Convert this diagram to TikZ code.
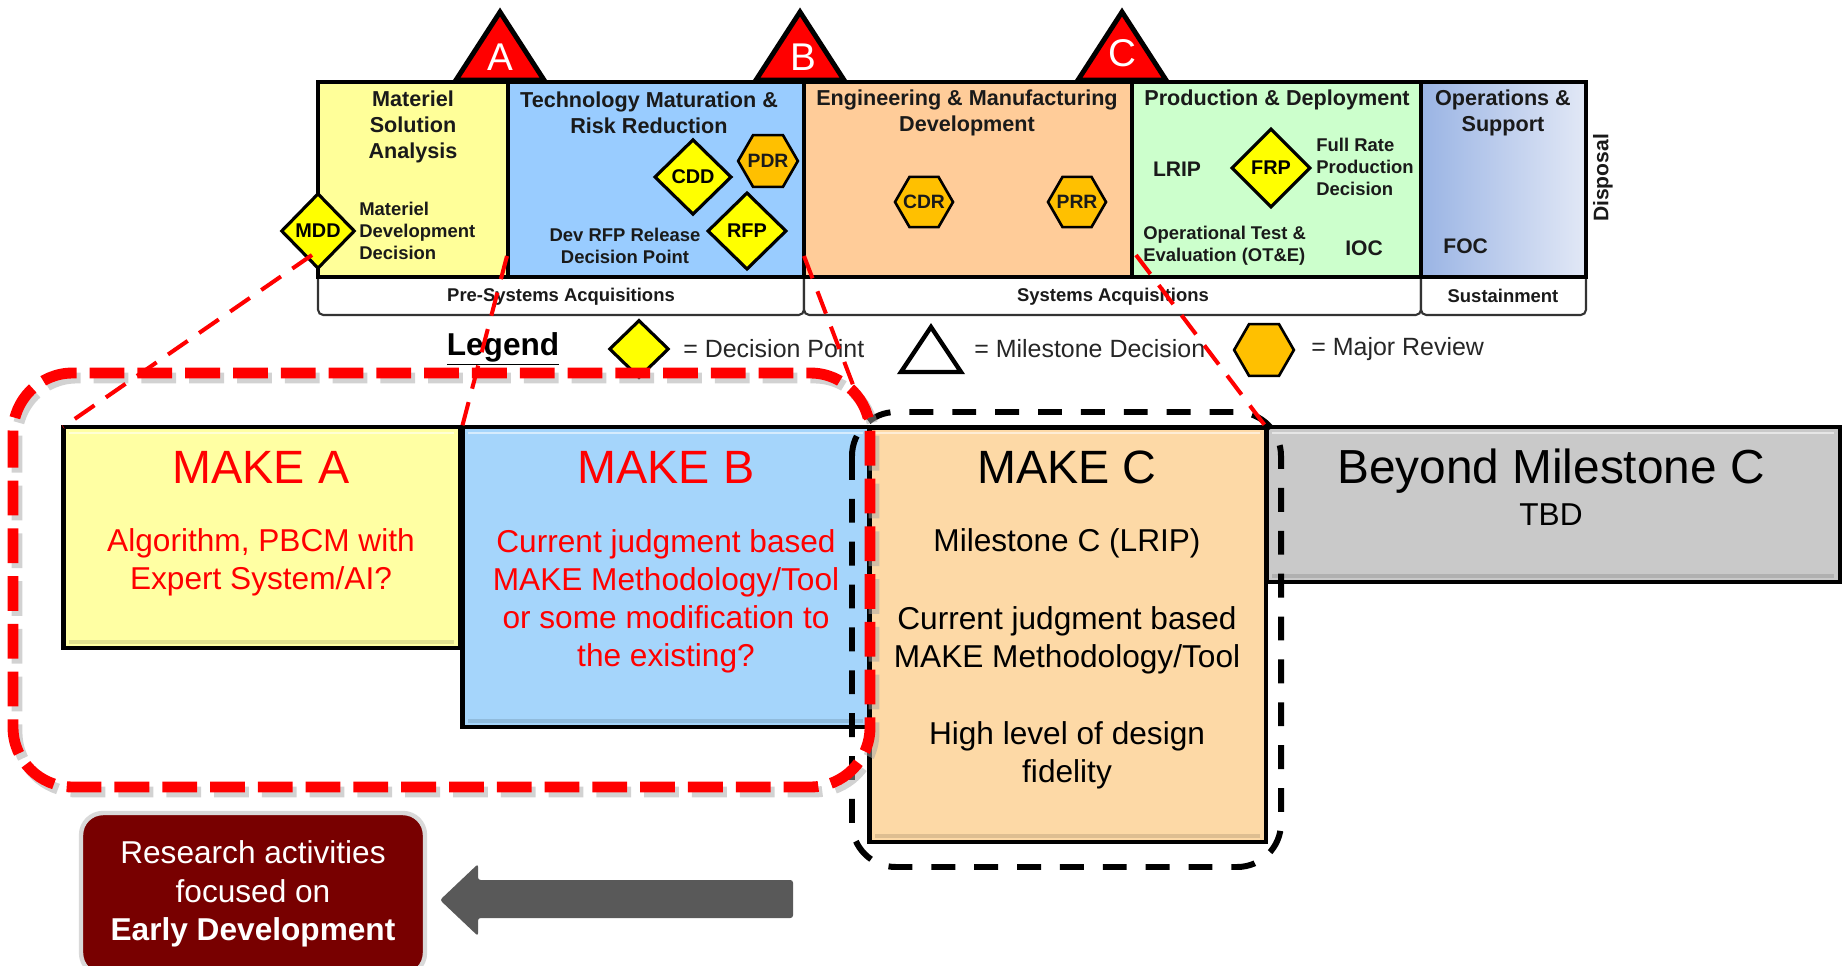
\documentclass[tikz,border=0pt]{standalone}
\usepackage{fontspec}
\setmainfont{Liberation Sans}
\usetikzlibrary{shapes.geometric,calc}

\definecolor{msayellow}{HTML}{FFFF99}
\definecolor{tmrrblue}{HTML}{99CCFF}
\definecolor{emdorange}{HTML}{FFCC99}
\definecolor{pdgreen}{HTML}{CCFFCC}
\definecolor{osblueL}{HTML}{9AB4E4}
\definecolor{osblueR}{HTML}{E2E8F6}
\definecolor{dpyellow}{HTML}{FFFF00}
\definecolor{revorange}{HTML}{FFC000}
\definecolor{makeAfill}{HTML}{FFFFA3}
\definecolor{makeBfill}{HTML}{A5D5FB}
\definecolor{makeCfill}{HTML}{FDD9A6}
\definecolor{beyondfill}{HTML}{C9C9C9}
\definecolor{researchfill}{HTML}{780000}
\definecolor{arrowgrey}{HTML}{595959}
\definecolor{striptext}{HTML}{1A1A1A}

\begin{document}
\begin{tikzpicture}[x=0.02cm, y=-0.02cm,
  stripttl/.style={font=\fontsize{12.3pt}{14.7pt}\selectfont\bfseries, align=center, text=striptext, inner sep=0},
  stripsm/.style={font=\fontsize{10.5pt}{12.5pt}\selectfont\bfseries, text=striptext, inner sep=0},
  stripmid/.style={font=\fontsize{12pt}{14pt}\selectfont\bfseries, text=striptext, inner sep=0},
  rowbox/.style={fill=white, draw=black!80, line width=1.2pt, rounded corners=3pt},
  rowlbl/.style={font=\fontsize{10.5pt}{12pt}\selectfont\bfseries, text=striptext, inner sep=0},
  decision/.style={diamond, draw=black, line width=1.8pt, fill=dpyellow, inner sep=0,
    font=\fontsize{11.3pt}{12pt}\selectfont\bfseries},
  review/.style={regular polygon, regular polygon sides=6, draw=black, line width=1.5pt,
    fill=revorange, inner sep=0, minimum size=33pt},
  reviewlbl/.style={inner sep=0, text=striptext, font=\fontsize{11pt}{12pt}\selectfont\bfseries},
  milestone/.style={fill=red, draw=black, line width=2.8pt, line join=miter},
  mslbl/.style={text=white, font=\fontsize{22pt}{24pt}\selectfont, inner sep=0},
  legtxt/.style={font=\fontsize{14.2pt}{16pt}\selectfont, text=black!85, inner sep=0, anchor=west},
  makebox/.style={rectangle, draw=black, line width=2.8pt, inner sep=0, outer sep=0},
  bevel/.style={white, opacity=0.55, line width=1.6pt},
  bevelshade/.style={black, opacity=0.12, line width=2.2pt},
  maketitle/.style={font=\fontsize{26.6pt}{30pt}\selectfont, inner sep=0},
  makebody/.style={font=\fontsize{18pt}{21.6pt}\selectfont, align=center, inner sep=0},
  link/.style={red, line width=2.3pt, dash pattern=on 13.6pt off 7.9pt},
  bigred/.style={red, line width=6.2pt, rounded corners=34pt, dash pattern=on 19.8pt off 7.4pt},
  bigblack/.style={black, line width=3.4pt, rounded corners=25pt, dash pattern=on 13.6pt off 10.8pt}
]
\useasboundingbox (0,0) rectangle (1845,966);

% ---------- acquisition strip: lower row ----------
\filldraw[rowbox] (318,270) -- (318,315) -- (804,315) -- (804,270);
\filldraw[rowbox] (804,270) -- (804,315) -- (1421,315) -- (1421,270);
\filldraw[rowbox] (1421,270) -- (1421,315) -- (1586,315) -- (1586,270);
\node[rowlbl] (presys) at (561,297) {Pre-Systems Acquisitions};
\node[rowlbl] (sysacq) at (1113,297) {Systems Acquisitions};
\node[rowlbl] (sustain) at (1503,296) {Sustainment};

% ---------- acquisition strip: phases ----------
\fill[msayellow] (318,82) rectangle (508,277);
\fill[tmrrblue] (508,82) rectangle (804,277);
\fill[emdorange] (804,82) rectangle (1132,277);
\fill[pdgreen] (1132,82) rectangle (1421,277);
\shade[left color=osblueL, right color=osblueR] (1421,82) rectangle (1586,277);
\draw[line width=2pt] (318,82) rectangle (1586,277);
\foreach \xx in {508,804,1132,1421} \draw[line width=2pt] (\xx,82) -- (\xx,277);

\node[stripttl] (msa) at (413,127) {Materiel\\Solution\\Analysis};
\node[stripttl] (tmrr) at (649,113) {Technology Maturation \&\\Risk Reduction};
\node[stripttl] (emd) at (967,113) {Engineering \& Manufacturing\\Development};
\node[stripttl] (pd) at (1277,100) {Production \& Deployment};
\node[stripttl] (os) at (1503,113) {Operations \&\\Support};

\node[decision, minimum width=42pt, minimum height=43pt] (mdd) at (318,231) {MDD};
\node[stripsm, anchor=west, align=left] (mddtxt) at (359,231) {Materiel\\Development\\Decision};
\node[decision, minimum width=44pt, minimum height=43pt] (cdd) at (693,177) {CDD};
\node[review, minimum size=34pt] (pdr) at (768,161) {};
\node[reviewlbl] (pdrlbl) at (pdr) {PDR};
\node[decision, minimum width=45pt, minimum height=44pt] (rfp) at (747,231) {RFP};
\node[stripsm, align=center] (rfptxt) at (625,246) {Dev RFP Release\\Decision Point};
\node[review] (cdr) at (924,202) {};
\node[reviewlbl] (cdrlbl) at (cdr) {CDR};
\node[review] (prr) at (1077,202) {};
\node[reviewlbl] (prrlbl) at (prr) {PRR};
\node[stripmid] (lrip) at (1177,169) {LRIP};
\node[decision, minimum width=45pt, minimum height=45pt] (frp) at (1271,168) {FRP};
\node[stripsm, anchor=west, align=left] (frptxt) at (1316,167) {Full Rate\\Production\\Decision};
\node[stripsm, anchor=west, align=left] (ote) at (1143,246) {Operational Test \&\\Evaluation (OT\&E)};
\node[stripmid] (ioc) at (1364,248) {IOC};
\node[stripmid, anchor=west] (foc) at (1443,246) {FOC};
\node[rowlbl, rotate=90, font=\fontsize{12pt}{13pt}\selectfont\bfseries] (disposal) at (1603,178) {Disposal};

% ---------- milestones ----------
\filldraw[milestone] (500,12) -- (544,80) -- (456,80) -- cycle;
\filldraw[milestone] (800,12) -- (844,80) -- (756,80) -- cycle;
\filldraw[milestone] (1122,12) -- (1166,80) -- (1078,80) -- cycle;
\node[mslbl] (msA) at (500,57) {A};
\node[mslbl] (msB) at (803,57) {B};
\node[mslbl] (msC) at (1122,53) {C};

% ---------- legend ----------
\node[font=\fontsize{18pt}{20pt}\selectfont\bfseries, inner sep=0] (legend) at (503,349) {\underline{Legend}};
\node[decision, minimum width=34pt, minimum height=33pt] (legdp) at (639,349) {};
\node[legtxt] (legdptxt) at (683,349) {= Decision Point};
\filldraw[fill=white, draw=black, line width=2.5pt, line join=miter] (931,327) -- (961,372) -- (901,372) -- cycle;
\node[legtxt] (legmstxt) at (974,349) {= Milestone Decision};
\node[review, minimum size=34pt] (legrev) at (1264,350) {};
\node[legtxt] (legrevtxt) at (1311,349) {= Major Review};

% ---------- MAKE boxes ----------
\node[makebox, fill=makeAfill, minimum width=7.94cm, minimum height=4.42cm] (makeA) at (261.5,537.5) {};
\node[makebox, fill=makeBfill, minimum width=8.14cm, minimum height=6.0cm] (makeB) at (665.5,577) {};
\node[makebox, fill=makeCfill, minimum width=7.94cm, minimum height=8.3cm] (makeC) at (1067.5,634.5) {};
\node[makebox, fill=beyondfill, minimum width=11.48cm, minimum height=3.1cm] (beyond) at (1553,504.5) {};
% soft bevel along the inner top and bottom edges
\foreach \bx in {makeA,makeB,makeC,beyond} {
  \draw[bevel] ($(\bx.north west)+(6,6)$) -- ($(\bx.north east)+(-6,6)$);
  \draw[bevelshade] ($(\bx.south west)+(6,-6)$) -- ($(\bx.south east)+(-6,-6)$);
}

\node[maketitle, text=red] (makeAttl) at (261,467) {MAKE A};
\node[makebody, text=red] (makeAtxt) at (261,562) {Algorithm, PBCM with\\Expert System/AI?};
\node[maketitle, text=red] (makeBttl) at (666,467) {MAKE B};
\node[makebody, text=red] (makeBtxt) at (666,601) {Current judgment based\\MAKE Methodology/Tool\\or some modification to\\the existing?};
\node[maketitle] (makeCttl) at (1067,467) {MAKE C};
\node[makebody] (makeCa) at (1067,543) {Milestone C (LRIP)};
\node[makebody] (makeCb) at (1067,640) {Current judgment based\\MAKE Methodology/Tool};
\node[makebody] (makeCc) at (1067,755) {High level of design\\fidelity};
\node[maketitle, font=\fontsize{27.2pt}{30pt}\selectfont] (beyondttl) at (1551,471) {Beyond Milestone C};
\node[makebody] (beyondtxt) at (1551,515) {TBD};

% ---------- research note and arrow ----------
\node[rectangle, rounded corners=12.5pt, fill=researchfill, draw=black!15, line width=2.5pt,
      minimum width=6.88cm, minimum height=3.24cm, inner sep=0, text=white, align=center,
      font=\fontsize{18pt}{22pt}\selectfont] (research) at (253,894)
  {Research activities\\focused on\\\textbf{Early Development}};
\fill[arrowgrey, rounded corners=1.5pt] (440,900) -- (478,864) -- (478,880) -- (793,880)
  -- (793,918) -- (478,918) -- (478,936) -- cycle;

% ---------- grouping frames ----------
\draw[bigblack] (852,412) rectangle (1281,867);
\draw[bigred, black!35, opacity=0.5] (17,378) rectangle (874,792);
\draw[bigred] (13,373) rectangle (870,787);

% ---------- phase-to-MAKE links ----------
\coordinate (mddfoot) at (312,255);
\coordinate (msaend) at (507,256);
\coordinate (tmrrend) at (804,256);
\coordinate (emdend) at (1136,255);
\draw[link] (mddfoot) -- (makeA.north west);
\draw[link] (msaend) -- (makeB.north west);
\draw[link] (tmrrend) -- (makeC.north west);
\draw[link] (emdend) -- (beyond.north west);
\end{tikzpicture}
\end{document}
